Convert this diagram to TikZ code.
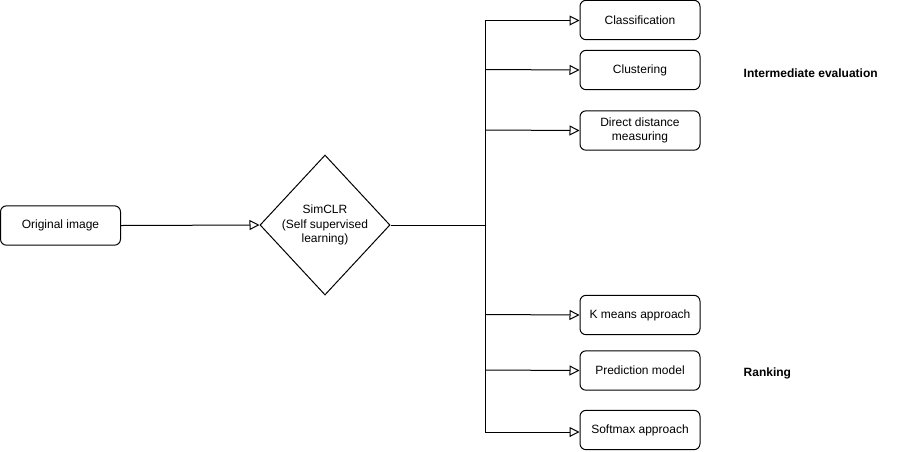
\documentclass[tikz,border=0pt]{standalone}
\usepackage{fontspec}
\setmainfont{Liberation Sans}
\usetikzlibrary{shapes.geometric,arrows.meta}
\begin{document}
\begin{tikzpicture}[x=0.75pt,y=-0.75pt,
  box/.style={draw,rounded corners=4.5pt,minimum width=90pt,minimum height=29.5pt,align=center,font=\fontsize{9}{11}\selectfont,line width=0.75pt},
  dia/.style={draw,diamond,minimum width=97.5pt,minimum height=105pt,inner sep=0pt,align=center,font=\fontsize{9}{11}\selectfont,line width=0.75pt},
  conn/.style={line width=0.75pt,-{Triangle[open,length=7.5pt,width=7.5pt]}},
  trunk/.style={line width=0.75pt},
  lbl/.style={font=\fontsize{9}{11}\selectfont\bfseries,anchor=west}]
\useasboundingbox (0,0) rectangle (911,451);
\node[box] (orig) at (60.5,225.5) {Original image};
\node[dia] (sim) at (325,225) {SimCLR\\(Self supervised\\learning)};
\node[box] (cls) at (640,20) {Classification};
\node[box] (clu) at (640,70) {Clustering};
\node[box] (dd) at (640,130.5) {Direct distance\\measuring};
\node[box] (km) at (640,315) {K means approach};
\node[box] (pm) at (640,370.5) {Prediction model};
\node[box] (sm) at (640,430) {Softmax approach};
\node[lbl] (ie) at (739,73.5) {Intermediate evaluation};
\node[lbl] (rk) at (739,373.5) {Ranking};
\coordinate (j) at (485,225);
\coordinate (t1) at (485,20.5);
\coordinate (t2) at (485,69.5);
\coordinate (t3) at (485,130);
\coordinate (t4) at (485,314.5);
\coordinate (t5) at (485,370);
\coordinate (t6) at (485,432);
\draw[conn] (orig.east) -- (sim.west);
\draw[trunk] (sim.east) -- (j);
\draw[trunk] (t1) -- (t6);
\draw[conn] (t1) -- (cls.west |- t1);
\draw[conn] (t2) -- (clu.west |- 0,70);
\draw[conn] (t3) -- (dd.west |- 0,130.5);
\draw[conn] (t4) -- (km.west |- 0,315);
\draw[conn] (t5) -- (pm.west |- 0,370.5);
\draw[conn] (t6) -- (sm.west |- t6);
\end{tikzpicture}
\end{document}
